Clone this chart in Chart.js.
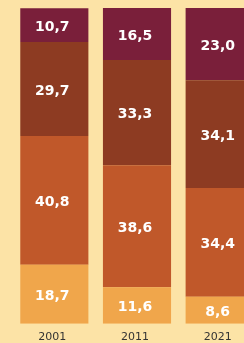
<!DOCTYPE html>
<html>
<head>
<meta charset="utf-8">
<script src="https://cdn.jsdelivr.net/npm/chart.js@4"></script>
<style>
  html, body { margin: 0; padding: 0; background: #fce3a6; overflow: hidden; width: 244px; height: 343px; }
  canvas { display: block; }
</style>
</head>
<body>
<canvas id="chart" width="261" height="351"></canvas>
<script>
// ================= DATA =================
const years = ["2001", "2011", "2021"];
const lightShare  = [18.7, 11.6, 8.6];
const orangeShare = [40.8, 38.6, 34.4];
const brownShare  = [29.7, 33.3, 34.1];
const maroonShare = [10.7, 16.5, 23.0];

// ================= LABELS PLUGIN =================
const valueLabels = {
  id: "valueLabels",
  afterDatasetsDraw(chart) {
    const ctx = chart.ctx;
    ctx.save();
    ctx.fillStyle = "#ffffff";
    ctx.font = "bold 14px 'DejaVu Sans'";
    ctx.textAlign = "center";
    ctx.textBaseline = "middle";
    chart.data.datasets.forEach((ds, i) => {
      chart.getDatasetMeta(i).data.forEach((bar, j) => {
        const txt = ds.data[j].toFixed(1).replace(".", ",");
        const y = (bar.y + bar.base) / 2 + 2;
        ctx.fillText(txt, bar.x - 2, y);
      });
    });
    ctx.restore();
  }
};

// ================= CHART =================
new Chart(document.getElementById("chart"), {
  type: "bar",
  data: {
    labels: years,
    datasets: [
      { data: lightShare,  backgroundColor: "#f0a64b" },
      { data: orangeShare, backgroundColor: "#c0582a" },
      { data: brownShare,  backgroundColor: "#8d3b22" },
      { data: maroonShare, backgroundColor: "#7a1f3a" }
    ]
  },
  options: {
    responsive: false,
    animation: false,
    devicePixelRatio: 1,
    layout: { padding: { top: 8, left: 13, right: 0, bottom: 0 } },
    datasets: { bar: { categoryPercentage: 1, barPercentage: 0.824 } },
    plugins: { legend: { display: false }, tooltip: { enabled: false } },
    scales: {
      x: {
        stacked: true,
        grid: { display: false, drawTicks: false },
        border: { display: false },
        ticks: { color: "#333333", font: { family: "DejaVu Sans", size: 11 }, padding: 7, labelOffset: -2 }
      },
      y: { stacked: true, display: false, min: 0, max: 100 }
    }
  },
  plugins: [valueLabels]
});
</script>
</body>
</html>
